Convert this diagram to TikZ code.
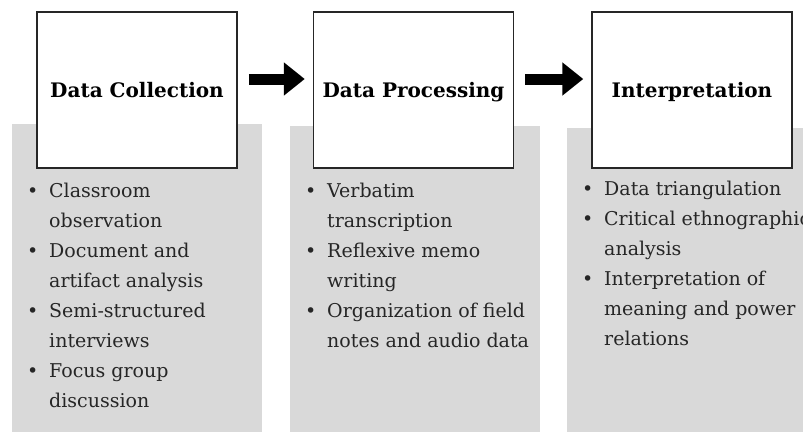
\documentclass[tikz,border=0pt]{standalone}
\usepackage{fontspec}
\setmainfont{DejaVu Serif}
\usetikzlibrary{arrows.meta}
\begin{document}
\begin{tikzpicture}[
        x=1pt, y=-1pt,
        panel/.style={fill=black!15, minimum width=250pt, minimum height=320pt,
                      anchor=north west, inner sep=0pt},
        stage/.style={draw=black!85, line width=1.5pt, fill=white,
                      minimum width=200pt, minimum height=156pt, inner sep=0pt,
                      text height=15pt, text depth=0pt,
                      font=\fontsize{20}{24}\selectfont\bfseries},
        points/.style={anchor=north west, align=left, inner sep=0pt,
                       text=black!85, font=\fontsize{19}{30}\selectfont},
        flow/.style={line width=11pt, -{Triangle[length=21pt, width=32pt]},
                     shorten <=11pt, shorten >=8pt},
    ]
        \def\bul{\makebox[22pt][l]{\textbullet}}
        \def\ind{\hspace*{22pt}}
        \useasboundingbox (0,0) rectangle (803,431);

        \node[panel] (p1) at (12,124) {};
        \node[panel] (p2) at (290,126) {};
        \node[panel] (p3) at (567,128) {};

        \node[stage] (1) at (137,90) {Data Collection};
        \node[stage] (2) at (413.5,90) {Data Processing};
        \node[stage] (3) at (692,90) {Interpretation};

        \node[points] (l1) at (27,183) {\bul Classroom\\ \ind observation\\
            \bul Document and\\ \ind artifact analysis\\
            \bul Semi-structured\\ \ind interviews\\
            \bul Focus group\\ \ind discussion};
        \node[points] (l2) at (305,183) {\bul Verbatim\\ \ind transcription\\
            \bul Reflexive memo\\ \ind writing\\
            \bul Organization of field\\ \ind notes and audio data};
        \node[points] (l3) at (582,181) {\bul Data triangulation\\
            \bul Critical ethnographic\\ \ind analysis\\
            \bul Interpretation of\\ \ind meaning and power\\ \ind relations};

        \draw[flow] ([yshift=11pt]1.east) to ([yshift=11pt]2.west);
        \draw[flow] ([yshift=11pt]2.east) to ([yshift=11pt]3.west);
    \end{tikzpicture}
\end{document}
